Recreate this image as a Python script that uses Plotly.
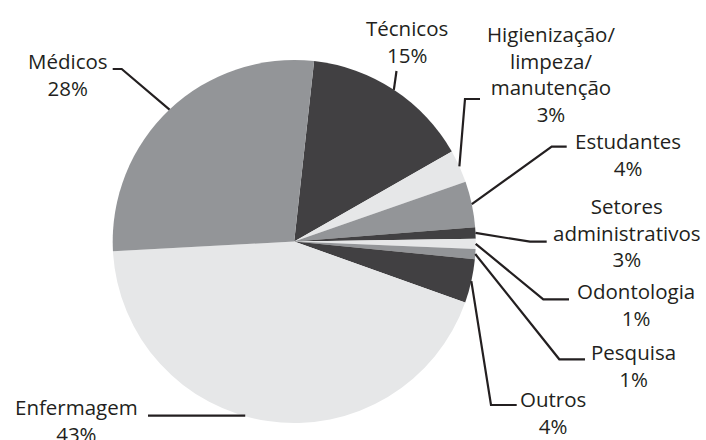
import math
import plotly.graph_objects as go

# ---- data ----
categories = ["Técnicos", "Higienização/<br>limpeza/<br>manutenção", "Estudantes",
              "Setores<br>administrativos", "Odontologia", "Pesquisa", "Outros",
              "Enfermagem", "Médicos"]
shares = [15.0, 2.9, 4.1, 1.0, 0.9, 0.9, 3.9, 43.7, 27.6]       # drawn slice sizes
pct_labels = ["15%", "3%", "4%", "3%", "1%", "1%", "4%", "43%", "28%"]

DARK, MID, LIGHT = "#414042", "#939598", "#e6e7e8"
colors = [DARK, LIGHT, MID, DARK, LIGHT, MID, DARK, LIGHT, MID]

# ---- layout geometry (pixels) ----
W, H = 706, 440
CX, CY, R = 294.2, 241.5, 181.5
ROT = 6.3
FS = 20.5
FONT = "Open Sans"
INK = "#231f20"

# label: (center x, first baseline y)
label_pos = [
    (407, 36), (551, 41.7), (627.5, 148.3), (627, 213.3), (636, 298.3),
    (633, 360), (553, 406.7), (76.5, 415), (67.5, 69),
]
# leader line waypoints after the slice edge point (None -> horizontal to the edge)
leader_pts = [
    [(396.5, 71)],
    [(465, 99), (480, 99)],
    [(551.7, 146.7), (566.7, 146.7)],
    [(530, 241.7), (546.7, 241.7)],
    [(543.3, 299.3), (569, 299.3)],
    [(559.3, 359.3), (585, 359.3)],
    [(491, 405), (516.7, 405)],
    None,
    [(121.7, 69), (112.7, 69)],
]

fig = go.Figure(go.Pie(
    values=shares, labels=[c.replace("<br>", " ") for c in categories],
    sort=False, direction="clockwise", rotation=ROT,
    marker=dict(colors=colors, line=dict(width=0)),
    textinfo="none", hoverinfo="label+percent", showlegend=False,
    domain=dict(x=[(CX - R) / W, (CX + R) / W], y=[(H - CY - R) / H, (H - CY + R) / H]),
))

def px(x):
    return x / W

def py(y):
    return 1 - y / H

total = sum(shares)
cum = 0.0
shapes = []
annotations = []
for i, (cat, v, pct) in enumerate(zip(categories, shares, pct_labels)):
    mid = ROT + 360.0 * (cum + v / 2) / total
    cum += v
    a = math.radians(mid)
    ex, ey = CX + R * math.sin(a), CY - R * math.cos(a)
    if leader_pts[i] is None:
        ly = 415.7
        ex2 = CX - math.sqrt(max(R * R - (ly - CY) ** 2, 0))
        pts = [(ex2 + 2, ly), (148, ly)]
    else:
        pts = [(ex, ey)] + leader_pts[i]
    path = "M " + " L ".join(f"{px(x):.5f},{py(y):.5f}" for x, y in pts)
    shapes.append(dict(type="path", path=path, xref="paper", yref="paper",
                       line=dict(color=INK, width=2.2)))
    text = cat + "<br>" + pct
    nlines = text.count("<br>") + 1
    cx, b1 = label_pos[i]
    b_last = b1 + (nlines - 1) * 1.3 * FS
    ymid = (b1 + b_last) / 2 - 0.36 * FS
    annotations.append(dict(text=text, x=px(cx), y=py(ymid), xref="paper", yref="paper",
                            xanchor="center", yanchor="middle", showarrow=False,
                            align="center", font=dict(family=FONT, size=FS, color=INK)))

fig.update_layout(
    width=W, height=H, margin=dict(l=0, r=0, t=0, b=0),
    paper_bgcolor="white", plot_bgcolor="white",
    shapes=shapes, annotations=annotations,
)
fig.write_html("out.html", config={"displayModeBar": False},
               post_script="document.body.style.margin='0';document.body.style.overflow='hidden';")
